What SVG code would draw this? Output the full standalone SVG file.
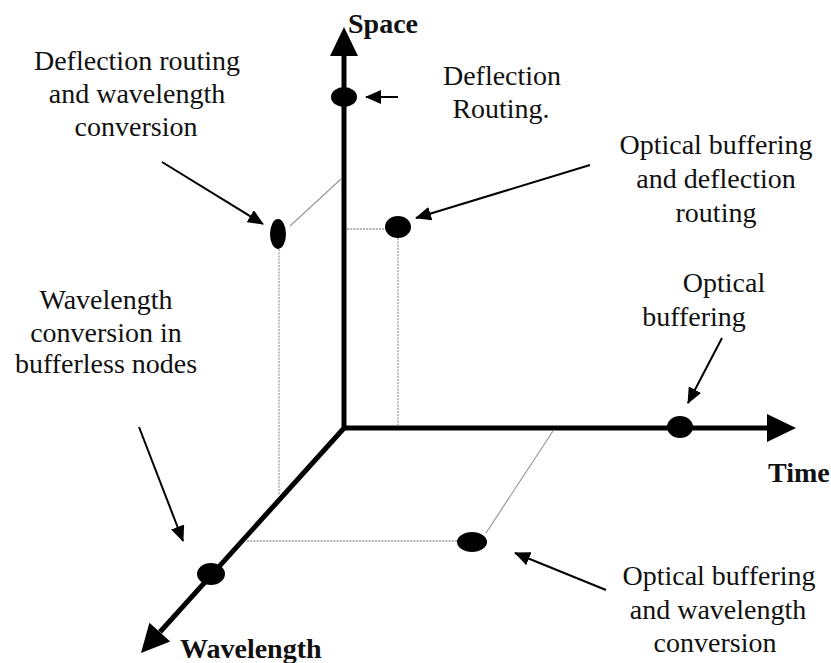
<svg xmlns="http://www.w3.org/2000/svg" width="831" height="663" viewBox="0 0 831 663">
<style>
.lbl{font-family:'Liberation Serif',serif;font-size:28px;fill:#111;text-anchor:middle}
.ax{font-family:'Liberation Serif',serif;font-size:28px;font-weight:bold;fill:#111}
.axis{stroke:#000;stroke-width:5;fill:none;stroke-linejoin:miter}
.head{fill:#000}
.ann{stroke:#000;stroke-width:2;fill:none;marker-end:url(#arr)}
.thin{stroke:#999;stroke-width:1.2;fill:none}
.dot{stroke:#999;stroke-width:1.3;stroke-dasharray:2 1.2;fill:none}
.node{fill:#000}
</style>
<defs>
<marker id="arr" viewBox="0 0 16 14" refX="15" refY="7" markerWidth="16" markerHeight="14" markerUnits="userSpaceOnUse" orient="auto">
<path d="M0,0 L16,7 L0,14 z" fill="#000"/>
</marker>
</defs>
<rect width="831" height="663" fill="#fff"/>
<g id="axes">
<polyline class="axis" points="344,55 344,428 768,428"/>
<line class="axis" x1="345" y1="427" x2="160" y2="632"/>
<polygon class="head" points="344,27 330,56 358,56"/>
<polygon class="head" points="796,428 767,414 767,442"/>
<polygon class="head" points="141,653 149.4,622.8 170.2,641.6"/>
</g>
<g id="connectors">
<line class="thin" x1="290" y1="226" x2="341" y2="179"/>
<line class="thin" x1="486" y1="533" x2="553" y2="431"/>
<line class="dot" x1="347" y1="229" x2="385" y2="229"/>
<line class="dot" x1="398" y1="238" x2="398" y2="426"/>
<line class="dot" x1="279" y1="249" x2="279" y2="495"/>
<line class="dot" x1="247" y1="541" x2="457" y2="541"/>
<line class="ann" x1="398" y1="97" x2="366" y2="97"/>
<line class="ann" x1="162" y1="162" x2="263" y2="224"/>
<line class="ann" x1="590" y1="165" x2="416" y2="218"/>
<line class="ann" x1="722" y1="338" x2="688" y2="403"/>
<line class="ann" x1="139" y1="427" x2="183" y2="541"/>
<line class="ann" x1="606" y1="590" x2="515" y2="553"/>
</g>
<g id="node-deflection"><ellipse class="node" cx="344" cy="97" rx="13" ry="10"/></g>
<g id="node-deflection-wavelength"><ellipse class="node" cx="278" cy="234" rx="8" ry="15"/></g>
<g id="node-buffer-deflection"><ellipse class="node" cx="398" cy="227" rx="13" ry="11"/></g>
<g id="node-buffering"><ellipse class="node" cx="680" cy="427" rx="13" ry="11"/></g>
<g id="node-buffer-wavelength"><ellipse class="node" cx="472" cy="542" rx="15" ry="10"/></g>
<g id="node-wavelength"><ellipse class="node" cx="211" cy="574" rx="14" ry="11"/></g>
<g id="labels">
<text class="ax" x="348" y="33">Space</text>
<text class="ax" x="768" y="482">Time</text>
<text class="ax" x="180" y="658">Wavelength</text>
<text class="lbl" x="137" y="70">Deflection routing</text>
<text class="lbl" x="137" y="103">and wavelength</text>
<text class="lbl" x="136" y="136">conversion</text>
<text class="lbl" x="502" y="85">Deflection</text>
<text class="lbl" x="501" y="118">Routing.</text>
<text class="lbl" x="716" y="154">Optical buffering</text>
<text class="lbl" x="716" y="188">and deflection</text>
<text class="lbl" x="716" y="222">routing</text>
<text class="lbl" x="724" y="292">Optical</text>
<text class="lbl" x="694" y="326">buffering</text>
<text class="lbl" x="106" y="309">Wavelength</text>
<text class="lbl" x="106" y="342">conversion in</text>
<text class="lbl" x="106" y="373">bufferless nodes</text>
<text class="lbl" x="719" y="585">Optical buffering</text>
<text class="lbl" x="718" y="619">and wavelength</text>
<text class="lbl" x="715" y="652">conversion</text>
</g>
</svg>
